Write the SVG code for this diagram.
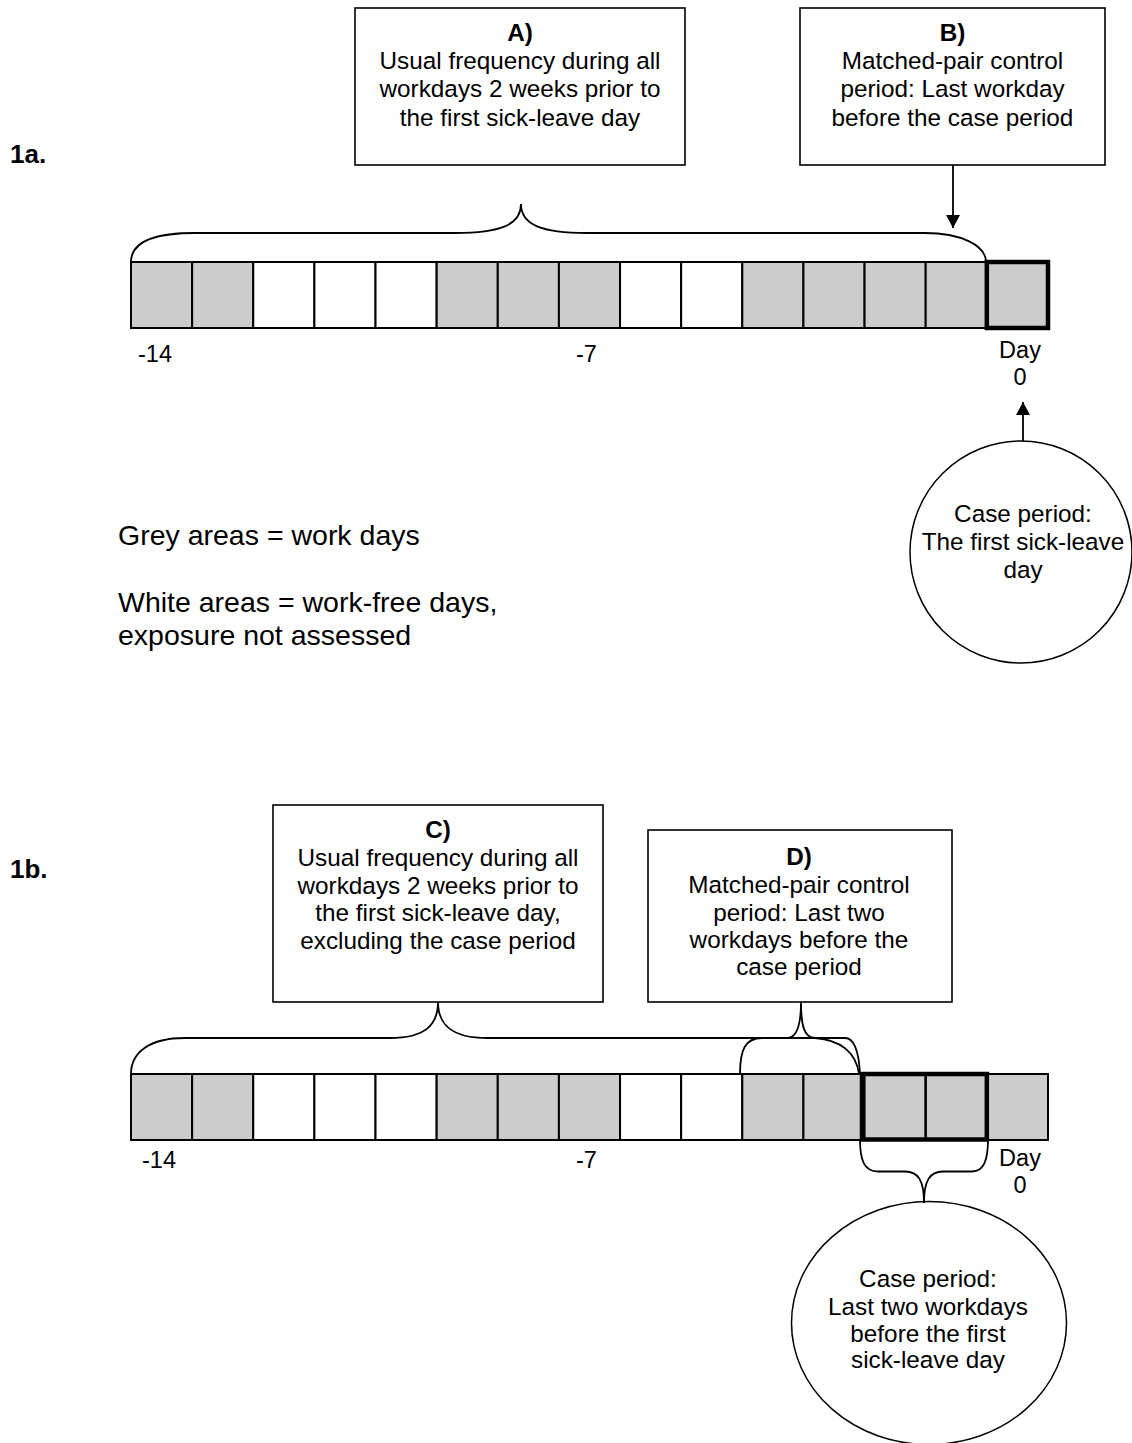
<svg xmlns="http://www.w3.org/2000/svg" width="1132" height="1443" viewBox="0 0 1132 1443">
<defs>
<style>
text{font-family:"Liberation Sans",Arial,sans-serif;fill:#000}
.t{font-size:24.3px;text-anchor:middle}
.b{font-weight:bold}
.lbl{font-size:23.5px}
.leg{font-size:28.5px}
.box{fill:#fff;stroke:#000;stroke-width:1.6}
.g{fill:#cccccc;stroke:#000;stroke-width:2}
.w{fill:#fff;stroke:#000;stroke-width:2}
.thick{fill:none;stroke:#000;stroke-width:4.5}
.ln{fill:none;stroke:#000;stroke-width:1.8}
</style>
<marker id="ah" markerWidth="13" markerHeight="14" refX="13" refY="7" orient="auto" markerUnits="userSpaceOnUse">
<path d="M0,0 L13,7 L0,14 z" fill="#000"/>
</marker>
<g id="row">
<rect class="g" x="131" y="0" width="61.13" height="66"/>
<rect class="g" x="192.13" y="0" width="61.13" height="66"/>
<rect class="w" x="253.26" y="0" width="61.13" height="66"/>
<rect class="w" x="314.39" y="0" width="61.13" height="66"/>
<rect class="w" x="375.52" y="0" width="61.13" height="66"/>
<rect class="g" x="436.65" y="0" width="61.13" height="66"/>
<rect class="g" x="497.78" y="0" width="61.13" height="66"/>
<rect class="g" x="558.91" y="0" width="61.13" height="66"/>
<rect class="w" x="620.04" y="0" width="61.13" height="66"/>
<rect class="w" x="681.17" y="0" width="61.13" height="66"/>
<rect class="g" x="742.3" y="0" width="61.13" height="66"/>
<rect class="g" x="803.43" y="0" width="61.13" height="66"/>
<rect class="g" x="864.56" y="0" width="61.13" height="66"/>
<rect class="g" x="925.69" y="0" width="61.13" height="66"/>
<rect class="g" x="986.82" y="0" width="61.18" height="66"/>
</g>
</defs>

<!-- Part 1a -->
<text class="b" x="10" y="163" font-size="26px">1a.</text>

<g id="boxA">
<rect class="box" x="355" y="8" width="330" height="157"/>
<text class="t b" x="520" y="41">A)</text>
<text class="t" x="520" y="68.5">Usual frequency during all</text>
<text class="t" x="520" y="97">workdays 2 weeks prior to</text>
<text class="t" x="520" y="125.5">the first sick-leave day</text>
</g>

<g id="boxB">
<rect class="box" x="800" y="8" width="305" height="157"/>
<text class="t b" x="952.5" y="41">B)</text>
<text class="t" x="952.5" y="68.5">Matched-pair control</text>
<text class="t" x="952.5" y="97">period: Last workday</text>
<text class="t" x="952.5" y="125.5">before the case period</text>
</g>

<g id="timeline1a">
<use href="#row" y="262"/>
<rect class="thick" x="986.82" y="262" width="61.18" height="66"/>
<text class="lbl" x="138" y="362">-14</text>
<text class="lbl" x="576" y="362">-7</text>
<text class="lbl" x="1020" y="358" text-anchor="middle">Day</text>
<text class="lbl" x="1020" y="385" text-anchor="middle">0</text>
</g>

<g id="caseA">
<circle cx="1021" cy="552" r="111" fill="#fff" stroke="#000" stroke-width="1.5"/>
<text class="t" x="1023" y="522">Case period:</text>
<text class="t" x="1023" y="550">The first sick-leave</text>
<text class="t" x="1023" y="578">day</text>
</g>

<g id="legend">
<text class="leg" x="118" y="545">Grey areas = work days</text>
<text class="leg" x="118" y="612">White areas = work-free days,</text>
<text class="leg" x="118" y="645">exposure not assessed</text>
</g>

<!-- Part 1b -->
<text class="b" x="10" y="878" font-size="26px">1b.</text>

<g id="boxC">
<rect class="box" x="273" y="805" width="330" height="197"/>
<text class="t b" x="438" y="838">C)</text>
<text class="t" x="438" y="866">Usual frequency during all</text>
<text class="t" x="438" y="893.5">workdays 2 weeks prior to</text>
<text class="t" x="438" y="921">the first sick-leave day,</text>
<text class="t" x="438" y="948.5">excluding the case period</text>
</g>

<g id="boxD">
<rect class="box" x="648" y="830" width="304" height="172"/>
<text class="t b" x="799" y="865">D)</text>
<text class="t" x="799" y="893">Matched-pair control</text>
<text class="t" x="799" y="921">period: Last two</text>
<text class="t" x="799" y="948">workdays before the</text>
<text class="t" x="799" y="975">case period</text>
</g>

<g id="timeline1b">
<use href="#row" y="1074"/>
<rect class="thick" x="862" y="1074" width="124.82" height="65.5"/>
<line x1="925.69" y1="1074" x2="925.69" y2="1139.5" stroke="#000" stroke-width="2"/>
<text class="lbl" x="142" y="1168">-14</text>
<text class="lbl" x="576" y="1168">-7</text>
<text class="lbl" x="1020" y="1166" text-anchor="middle">Day</text>
<text class="lbl" x="1020" y="1193" text-anchor="middle">0</text>
</g>

<g id="caseB">
<ellipse cx="929" cy="1323" rx="137.5" ry="121.5" fill="#fff" stroke="#000" stroke-width="1.5"/>
<text class="t" x="928" y="1287">Case period:</text>
<text class="t" x="928" y="1314.5">Last two workdays</text>
<text class="t" x="928" y="1342">before the first</text>
<text class="t" x="928" y="1368">sick-leave day</text>
</g>

<g id="connectors">
<path class="ln" d="M131,262 C131,240 160,233 195,233 L455,233 C500,233 521,225 521,204 C521,225 542,233 587,233 L925,233 C960,233 986,245 986,262"/>
<line class="ln" x1="953" y1="165" x2="953" y2="228" marker-end="url(#ah)"/>
<line class="ln" x1="1023" y1="441" x2="1023" y2="402" marker-end="url(#ah)"/>
<path class="ln" d="M131,1074 C131,1052 150,1038 185,1038 L390,1038 C425,1038 438,1025 438,1002 C438,1025 452,1038 487,1038 L845,1038 C855,1038 859,1055 860,1074"/>
<path class="ln" d="M740,1074 C740,1050 745,1038 762,1038 L787,1038 C797,1038 801,1025 801,1002 C801,1025 804,1038 815,1038 C840,1040 856,1052 859,1074"/>
<path class="ln" d="M860,1139 C860,1160 864,1171.5 878,1171.5 L905,1171.5 C918,1171.5 924,1180 924,1203 C924,1180 930,1171.5 943,1171.5 L972,1171.5 C984,1171.5 988,1160 988,1139"/>
</g>
</svg>
